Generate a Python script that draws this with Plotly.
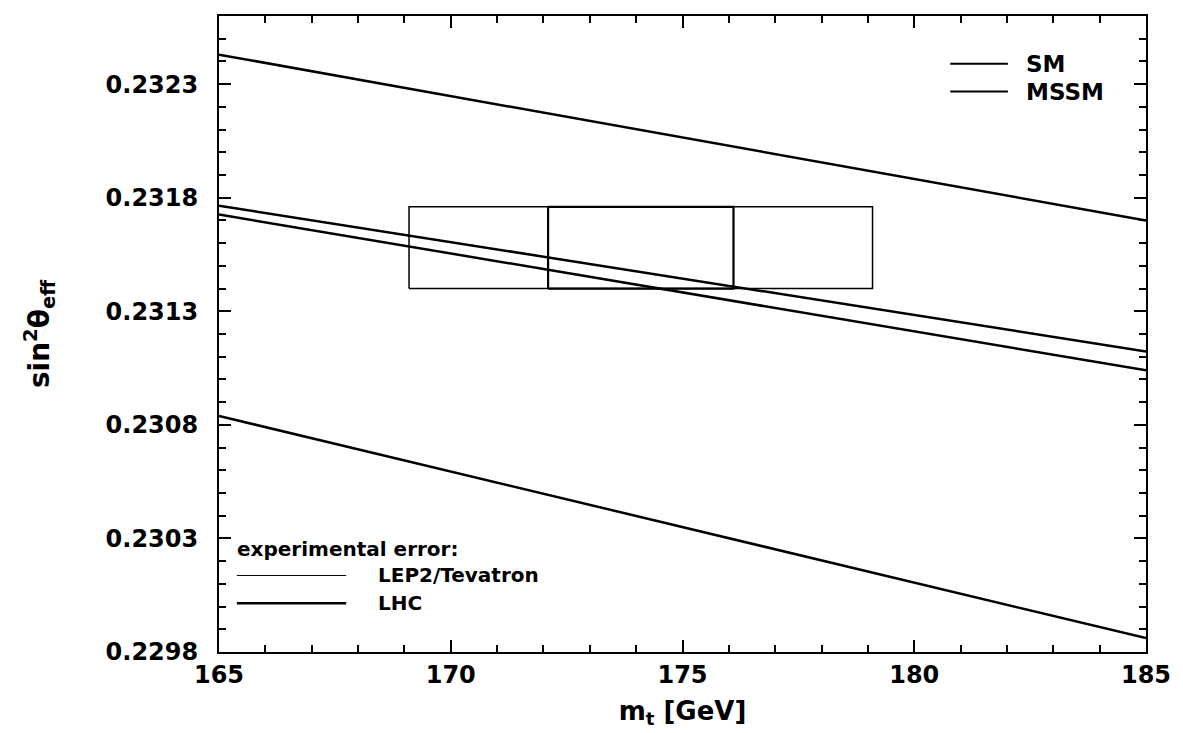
import plotly.graph_objects as go

# ---- data ----
mt_ends = [165, 185]
line_top = [0.23243, 0.23170]
line_mid_upper = [0.231765, 0.231123]
line_mid_lower = [0.231726, 0.231040]
line_bottom = [0.230839, 0.229861]

mt_center = 174.1
err_lep2_tev = 5.0
err_lhc = 2.0
sw_center = 0.23158
sw_err = 0.00018

x_ticks = [165, 170, 175, 180, 185]
y_ticks = [0.2298, 0.2303, 0.2308, 0.2313, 0.2318, 0.2323]
y_ticklabels = ["0.2298", "0.2303", "0.2308", "0.2313", "0.2318", "0.2323"]

FONT = "DejaVu Sans"
W, H = 1183, 733
L, R, T, B = 219, 31, 16, 77
PW, PH = W - L - R, H - T - B


def px(xp):
    return (xp - L) / PW


def py(yp):
    return (H - B - yp) / PH


fig = go.Figure()

for name, ys in [("SM upper", line_top), ("MSSM upper", line_mid_upper),
                 ("MSSM lower", line_mid_lower), ("SM lower", line_bottom)]:
    fig.add_trace(go.Scatter(x=mt_ends, y=ys, mode="lines", name=name,
                             line=dict(color="black", width=2.5), showlegend=False))

# LEP2/Tevatron error box
x0, x1 = mt_center - err_lep2_tev, mt_center + err_lep2_tev
y0, y1 = sw_center - sw_err, sw_center + sw_err
fig.add_trace(go.Scatter(x=[x0, x1, x1, x0, x0], y=[y0, y0, y1, y1, y0], mode="lines",
                         name="LEP2/Tevatron", line=dict(color="black", width=1.5),
                         showlegend=False))
# LHC error box
x0, x1 = mt_center - err_lhc, mt_center + err_lhc
fig.add_trace(go.Scatter(x=[x0, x1, x1, x0, x0], y=[y0, y0, y1, y1, y0], mode="lines",
                         name="LHC", line=dict(color="black", width=2.2),
                         showlegend=False))

tfont = dict(family=FONT, size=24, color="black", weight="bold")
xtitlefont = dict(family=FONT, size=26, color="black", weight="bold")
ytitlefont = dict(family=FONT, size=28, color="black", weight="bold")
lfont_top = dict(family=FONT, size=23, color="black", weight="bold")
lfont_bot = dict(family=FONT, size=20, color="black", weight="bold")

fig.update_layout(
    width=W, height=H,
    margin=dict(l=L, r=R, t=T, b=B),
    paper_bgcolor="white", plot_bgcolor="white",
    xaxis=dict(range=[165, 185], tickvals=x_ticks, ticks="inside", ticklen=12, tickwidth=2,
               tickcolor="black", showline=True, linecolor="black", linewidth=2,
               mirror="allticks", showgrid=False, zeroline=False, tickfont=tfont,
               minor=dict(dtick=1, ticks="inside", ticklen=7, tickwidth=1.5, tickcolor="black",
                          showgrid=False),
               title=dict(text="m<sub>t</sub> [GeV]", font=xtitlefont, standoff=14)),
    yaxis=dict(range=[0.2298, 0.2326], tickvals=y_ticks, ticktext=y_ticklabels,
               ticks="inside", ticklen=12, tickwidth=2, tickcolor="black",
               showline=True, linecolor="black", linewidth=2, mirror="allticks",
               showgrid=False, zeroline=False, tickfont=tfont, ticklabelstandoff=14,
               minor=dict(dtick=0.0001, tick0=0.2298, ticks="inside", ticklen=7, tickwidth=1.5,
                          tickcolor="black", showgrid=False),
               title=dict(text="sin<sup>2</sup>θ<sub>eff</sub>", font=ytitlefont, standoff=48)),
)

# legend drawn manually
legend_lines = [
    (955, 1013, 64, 2.0), (955, 1013, 92, 2.0),
    (237, 347, 579, 1.0), (237, 347, 607, 2.5),
]
for xa, xb, yy, wd in legend_lines:
    fig.add_shape(type="line", xref="paper", yref="paper", x0=px(xa), x1=px(xb),
                  y0=py(yy), y1=py(yy), line=dict(color="black", width=wd))

legend_texts = [
    ("SM", 1029, 64, lfont_top), ("MSSM", 1029, 92, lfont_top),
    ("experimental error:", 235, 552, lfont_bot), ("LEP2/Tevatron", 377, 579, lfont_bot),
    ("LHC", 377, 607, lfont_bot),
]
for txt, xx, yy, fnt in legend_texts:
    fig.add_annotation(text=txt, xref="paper", yref="paper", x=px(xx), y=py(yy),
                       xanchor="left", yanchor="middle", showarrow=False, font=fnt)

fig.write_html("out.html")
